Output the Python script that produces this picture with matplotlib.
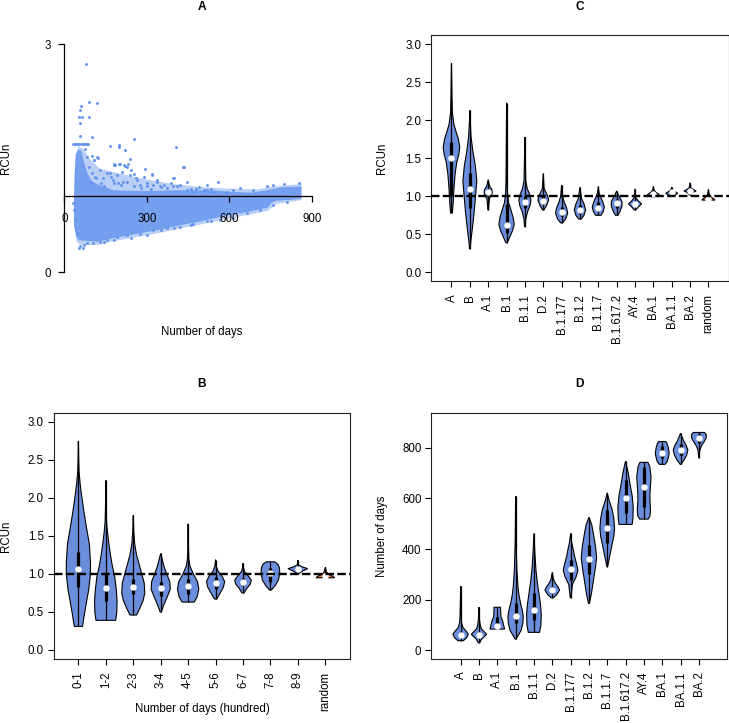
import matplotlib
matplotlib.use("Agg")
import matplotlib.pyplot as plt
import numpy as np

plt.rcParams["font.family"] = ["Liberation Sans", "DejaVu Sans"]
plt.rcParams["font.size"] = 8.3

# ---------------- data: panel A (scatter) ----------------
# dense core of the point cloud (upper and lower envelope, days / RCUn)
core_top_x = [35, 38, 42, 50, 62, 72, 85, 100, 121, 180, 285, 400, 545, 600, 680, 735, 790, 862]
core_top_y = [0.95, 1.30, 1.55, 1.62, 1.60, 1.45, 1.30, 1.20, 1.16, 1.08, 1.07, 1.08, 1.08, 1.06, 1.05, 1.08, 1.12, 1.13]
core_bot_x = [35, 36, 45, 54, 120, 181, 242, 303, 363, 424, 484, 545, 615, 675, 740, 752, 770, 820, 862]
core_bot_y = [0.95, 0.60, 0.45, 0.42, 0.40, 0.45, 0.49, 0.53, 0.57, 0.62, 0.66, 0.71, 0.76, 0.80, 0.85, 0.91, 0.94, 0.95, 0.97]
# sparser halo above the core (upper edge of the thinly scattered points)
halo_top_x = [35, 50, 70, 90, 130, 200, 300, 400, 500, 600, 700, 760, 862]
halo_top_y = [0.95, 1.66, 1.62, 1.50, 1.36, 1.30, 1.22, 1.16, 1.12, 1.10, 1.09, 1.13, 1.16]
# sparser halo below the core (lower edge of the thinly scattered points)
halo_bot_x = [35, 45, 60, 120, 181, 242, 303, 363, 424, 484, 545, 615, 675, 740, 770, 862]
halo_bot_y = [0.95, 0.40, 0.36, 0.36, 0.41, 0.45, 0.49, 0.53, 0.58, 0.62, 0.67, 0.72, 0.76, 0.81, 0.90, 0.95]

# individual scattered points outside the core
pts_x = [80, 90, 119, 62, 58, 55, 64, 91, 56, 57, 102, 253, 75, 121, 239,
         33, 38, 44, 50, 55, 61, 67, 72, 78, 84, 87,
         166, 197, 200, 222, 406, 182, 102,
         108, 130, 111, 142, 166, 184, 202, 220, 233, 178, 196, 214, 239, 253, 263, 275,
         293, 317, 336, 299, 323, 348, 372, 396, 394, 420, 430, 445, 463, 489, 517, 557,
         541, 590, 614, 638, 687, 735, 759, 797, 852,
         120, 181, 199, 217, 229, 156, 168, 193, 211, 241, 259, 290, 302, 320, 338, 362,
         386, 399, 435, 447, 477, 507, 520, 132, 144, 181, 205, 229, 253, 277, 314, 350,
         411, 459, 532, 90, 102, 108, 84, 114, 96,
         53, 72, 144, 181, 241, 302, 350, 398, 459, 532,
         57, 69, 81, 105, 130, 154, 190, 227, 275, 323, 372, 420, 469, 517, 566, 614,
         663, 711, 759, 808, 45, 39, 35, 30]
pts_y = [2.74, 2.24, 2.23, 2.19, 2.13, 2.05, 2.05, 2.05, 1.97, 1.79, 1.78, 1.76, 1.62, 1.51, 1.49,
         1.69, 1.69, 1.69, 1.69, 1.69, 1.69, 1.69, 1.69, 1.69, 1.69, 1.69,
         1.66, 1.68, 1.65, 1.61, 1.65, 1.42, 1.53,
         1.48, 1.35, 1.26, 1.24, 1.30, 1.41, 1.43, 1.40, 1.42, 1.21, 1.17, 1.19, 1.28, 1.29, 1.21, 1.15,
         1.36, 1.29, 1.21, 1.13, 1.15, 1.13, 1.11, 1.13, 1.24, 1.15, 1.38, 1.08, 1.06, 1.12, 1.08, 1.19,
         1.06, 1.06, 1.08, 1.11, 1.08, 1.13, 1.15, 1.16, 1.18,
         1.52, 1.41, 1.43, 1.41, 1.39, 1.30, 1.26, 1.28, 1.32, 1.35, 1.24, 1.26, 1.17, 1.28, 1.19, 1.15,
         1.17, 1.24, 1.39, 1.19, 1.10, 1.08, 1.15, 1.17, 1.13, 1.17, 1.15, 1.19, 1.13, 1.11, 1.09, 1.12,
         1.13, 1.09, 1.09, 1.39, 1.30, 1.48, 1.52, 1.24, 1.19,
         0.32, 0.36, 0.40, 0.43, 0.45, 0.49, 0.56, 0.58, 0.62, 0.67,
         0.34, 0.32, 0.38, 0.39, 0.40, 0.43, 0.46, 0.49, 0.51, 0.56, 0.58, 0.60, 0.64, 0.67, 0.69, 0.72,
         0.78, 0.82, 0.89, 0.93, 0.51, 0.69, 0.82, 0.91]

# ---------------- data: panel B (by period) ----------------
b_names = ["0-1", "1-2", "2-3", "3-4", "4-5", "5-6", "6-7", "7-8", "8-9", "random"]
b_prof_y = [
    [0.31, 0.45, 0.64, 0.80, 1.00, 1.15, 1.39, 1.60, 1.80, 2.05, 2.20, 2.35, 2.50, 2.75],
    [0.39, 0.50, 0.65, 0.80, 0.95, 1.10, 1.25, 1.40, 1.55, 1.70, 1.90, 2.23],
    [0.46, 0.55, 0.65, 0.75, 0.88, 1.00, 1.12, 1.25, 1.40, 1.55, 1.77],
    [0.50, 0.60, 0.70, 0.80, 0.90, 1.00, 1.10, 1.20, 1.27],
    [0.63, 0.70, 0.80, 0.90, 1.00, 1.10, 1.20, 1.35, 1.66],
    [0.67, 0.75, 0.83, 0.90, 0.97, 1.03, 1.10, 1.19],
    [0.75, 0.80, 0.87, 0.92, 0.98, 1.03, 1.08, 1.14],
    [0.79, 0.85, 0.92, 1.00, 1.08, 1.13, 1.16],
    [1.00, 1.04, 1.07, 1.09, 1.12, 1.18],
    [0.95, 0.97, 1.00, 1.03, 1.09],
]
b_prof_w = [
    [0.15, 0.21, 0.30, 0.38, 0.44, 0.44, 0.40, 0.30, 0.21, 0.11, 0.06, 0.025, 0.012, 0],
    [0.36, 0.40, 0.41, 0.38, 0.33, 0.24, 0.17, 0.11, 0.06, 0.025, 0.012, 0],
    [0.12, 0.24, 0.36, 0.42, 0.40, 0.31, 0.22, 0.12, 0.05, 0.02, 0],
    [0.02, 0.12, 0.24, 0.35, 0.33, 0.22, 0.12, 0.05, 0],
    [0.22, 0.33, 0.39, 0.34, 0.19, 0.07, 0.025, 0.012, 0],
    [0.04, 0.17, 0.29, 0.33, 0.24, 0.10, 0.025, 0],
    [0.04, 0.12, 0.27, 0.30, 0.18, 0.06, 0.02, 0],
    [0.04, 0.18, 0.29, 0.34, 0.33, 0.27, 0.15],
    [0.02, 0.18, 0.36, 0.18, 0.02, 0],
    [0.34, 0.27, 0.10, 0.04, 0],
]
b_med = [1.07, 0.81, 0.83, 0.82, 0.84, 0.88, 0.90, 1.01, 1.07, 0.97]
b_q1 = [0.83, 0.64, 0.73, 0.71, 0.73, 0.80, 0.85, 0.90, 1.05, 0.96]
b_q3 = [1.29, 1.00, 0.93, 0.89, 0.93, 0.96, 0.95, 1.08, 1.08, 0.99]

# ---------------- data: panel C (RCUn by lineage) ----------------
c_names = ["A", "B", "A.1", "B.1", "B.1.1", "D.2", "B.1.177", "B.1.2", "B.1.1.7",
           "B.1.617.2", "AY.4", "BA.1", "BA.1.1", "BA.2", "random"]
c_prof_y = [
    [0.78, 0.90, 1.00, 1.15, 1.30, 1.45, 1.55, 1.65, 1.75, 1.85, 1.95, 2.10, 2.30, 2.75],
    [0.31, 0.40, 0.60, 0.80, 1.00, 1.20, 1.40, 1.60, 1.80, 2.00, 2.13],
    [0.82, 0.90, 0.97, 1.00, 1.05, 1.09, 1.13, 1.17, 1.22],
    [0.39, 0.45, 0.55, 0.63, 0.72, 0.82, 0.92, 1.05, 1.20, 1.50, 2.23],
    [0.60, 0.70, 0.80, 0.87, 0.95, 1.03, 1.10, 1.20, 1.40, 1.78],
    [0.82, 0.88, 0.95, 1.00, 1.05, 1.10, 1.30],
    [0.65, 0.70, 0.78, 0.85, 0.92, 1.00, 1.15],
    [0.70, 0.75, 0.82, 0.90, 0.97, 1.05, 1.12],
    [0.75, 0.80, 0.86, 0.93, 1.00, 1.05, 1.13],
    [0.75, 0.80, 0.87, 0.93, 0.98, 1.02, 1.07],
    [0.82, 0.86, 0.90, 0.94, 0.98, 1.10],
    [0.99, 1.02, 1.05, 1.08, 1.13],
    [1.00, 1.04, 1.06, 1.08, 1.12],
    [1.02, 1.05, 1.07, 1.09, 1.11, 1.18],
    [0.95, 0.97, 1.00, 1.03, 1.09],
]
c_prof_w = [
    [0.05, 0.09, 0.11, 0.15, 0.20, 0.29, 0.40, 0.45, 0.38, 0.25, 0.13, 0.05, 0.03, 0],
    [0.02, 0.05, 0.15, 0.24, 0.31, 0.38, 0.30, 0.16, 0.06, 0.02, 0],
    [0.02, 0.04, 0.07, 0.15, 0.22, 0.20, 0.09, 0.04, 0],
    [0.04, 0.15, 0.33, 0.42, 0.36, 0.24, 0.11, 0.05, 0.03, 0.02, 0],
    [0.02, 0.05, 0.15, 0.27, 0.33, 0.25, 0.13, 0.05, 0.03, 0],
    [0.04, 0.18, 0.29, 0.25, 0.15, 0.05, 0],
    [0.05, 0.22, 0.33, 0.27, 0.15, 0.05, 0],
    [0.07, 0.22, 0.31, 0.22, 0.09, 0.04, 0],
    [0.15, 0.27, 0.33, 0.24, 0.11, 0.04, 0],
    [0.07, 0.18, 0.29, 0.29, 0.18, 0.09, 0],
    [0.04, 0.18, 0.36, 0.18, 0.05, 0],
    [0.05, 0.33, 0.15, 0.04, 0],
    [0.05, 0.33, 0.18, 0.05, 0],
    [0.04, 0.15, 0.33, 0.18, 0.05, 0],
    [0.36, 0.27, 0.09, 0.04, 0],
]
c_med = [1.51, 1.10, 1.06, 0.62, 0.92, 0.94, 0.79, 0.82, 0.85, 0.91, 0.90, 1.03, 1.05, 1.07, 0.97]
c_q1 = [1.00, 0.85, 1.00, 0.52, 0.85, 0.90, 0.74, 0.77, 0.80, 0.85, 0.88, 1.02, 1.04, 1.06, 0.96]
c_q3 = [1.72, 1.30, 1.09, 0.90, 1.00, 1.00, 0.86, 0.88, 0.92, 0.97, 0.92, 1.05, 1.06, 1.08, 0.99]

# ---------------- data: panel D (days by lineage) ----------------
d_names = ["A", "B", "A.1", "B.1", "B.1.1", "D.2", "B.1.177", "B.1.2", "B.1.1.7",
           "B.1.617.2", "AY.4", "BA.1", "BA.1.1", "BA.2"]
d_prof_y = [
    [38, 50, 63, 75, 90, 110, 140, 254],
    [30, 45, 55, 63, 72, 85, 100, 120, 170],
    [84, 95, 113, 133, 155, 170],
    [44, 60, 80, 110, 133, 160, 185, 220, 250, 316, 382, 450, 609],
    [71, 100, 143, 180, 225, 270, 318, 384, 462],
    [208, 220, 238, 252, 264, 280, 308],
    [208, 260, 290, 316, 340, 370, 396, 430, 462],
    [185, 221, 287, 330, 366, 410, 458, 497, 525],
    [330, 370, 420, 450, 482, 520, 554, 593, 622],
    [497, 520, 566, 610, 645, 675, 698, 725, 747],
    [518, 530, 554, 590, 620, 650, 686, 725, 742],
    [734, 745, 760, 778, 800, 815, 824],
    [734, 750, 770, 791, 810, 830, 857],
    [760, 790, 800, 812, 825, 839, 852, 860],
]
d_prof_w = [
    [0.15, 0.33, 0.42, 0.31, 0.13, 0.05, 0.03, 0],
    [0.04, 0.15, 0.30, 0.42, 0.30, 0.13, 0.07, 0.03, 0],
    [0.40, 0.36, 0.30, 0.20, 0.18, 0.18],
    [0.02, 0.15, 0.31, 0.40, 0.42, 0.36, 0.27, 0.18, 0.13, 0.07, 0.04, 0.02, 0],
    [0.31, 0.38, 0.40, 0.36, 0.27, 0.18, 0.11, 0.05, 0],
    [0.07, 0.25, 0.40, 0.30, 0.18, 0.07, 0],
    [0.02, 0.10, 0.30, 0.40, 0.33, 0.22, 0.15, 0.05, 0],
    [0.02, 0.13, 0.27, 0.36, 0.42, 0.36, 0.25, 0.15, 0],
    [0.02, 0.13, 0.27, 0.36, 0.40, 0.36, 0.27, 0.10, 0],
    [0.36, 0.40, 0.42, 0.36, 0.27, 0.20, 0.15, 0.07, 0],
    [0.24, 0.33, 0.36, 0.33, 0.33, 0.36, 0.39, 0.32, 0.22],
    [0.15, 0.27, 0.33, 0.38, 0.33, 0.27, 0.20],
    [0.02, 0.18, 0.33, 0.40, 0.30, 0.15, 0],
    [0.01, 0.05, 0.10, 0.18, 0.30, 0.40, 0.40, 0.30],
]
d_med = [62, 62, 95, 137, 159, 238, 322, 362, 482, 602, 646, 778, 791, 839]
d_q1 = [52, 56, 90, 107, 120, 228, 277, 300, 422, 541, 567, 760, 770, 820]
d_q3 = [72, 70, 130, 185, 225, 250, 356, 415, 554, 672, 725, 805, 815, 855]

# ---------------- styling ----------------
W, H = 729, 723
BLUE_PTS = "#6495ED"
BLUE_VIO = "#6A8EDC"
ORANGE = "#EA7A3E"
FS = 8.3

fig = plt.figure(figsize=(W / 100, H / 100), dpi=100)


def px_axes(l, r, t, b):
    return fig.add_axes([l / W, 1 - b / H, (r - l) / W, (b - t) / H])


def ftext(x, y, s, **kw):
    fig.text(x / W, 1 - y / H, s, **kw)


def draw_violins(ax, prof_y, prof_w, meds, q1s, q3s, colors):
    for i in range(len(prof_y)):
        pos = i + 1
        ys = np.asarray(prof_y[i], float)
        ws = np.asarray(prof_w[i], float)
        xs = np.concatenate([pos - ws, (pos + ws)[::-1]])
        yy = np.concatenate([ys, ys[::-1]])
        ax.fill(xs, yy, facecolor=colors[i], edgecolor="black", lw=0.8, zorder=2)
        ax.vlines(pos, ys.min(), ys.max(), color="black", lw=0.9, zorder=3)
        ax.vlines(pos, q1s[i], q3s[i], color="black", lw=2.3, zorder=3)
        ax.plot([pos], [meds[i]], "o", ms=3.6, color="white", mec="white", zorder=4)


def style_box(ax):
    for s in ax.spines.values():
        s.set_linewidth(0.8)
        s.set_color("#222222")
    ax.tick_params(axis="both", direction="out", length=4.1, width=0.8, labelsize=FS)
    ax.tick_params(axis="y", pad=3)
    ax.tick_params(axis="x", pad=5, labelrotation=90)


# ---------------- Panel A ----------------
axA = px_axes(53.7, 350, 35.2, 281.4)
axA.set_xlim(-38.5, 1038)
axA.set_ylim(-0.12, 3.12)
# light halos (thinly scattered points) then the dense core
axA.fill(halo_top_x + core_top_x[::-1], halo_top_y + core_top_y[::-1],
         facecolor=BLUE_PTS, edgecolor="none", alpha=0.45, zorder=0.4)
axA.fill(core_bot_x + halo_bot_x[::-1], core_bot_y + halo_bot_y[::-1],
         facecolor=BLUE_PTS, edgecolor="none", alpha=0.45, zorder=0.4)
poly_x = core_top_x + core_bot_x[::-1]
poly_y = core_top_y + core_bot_y[::-1]
axA.fill(poly_x, poly_y, facecolor=BLUE_PTS, edgecolor="none", alpha=0.9, zorder=0.5)
axA.scatter(pts_x, pts_y, s=4.5, color=BLUE_PTS, linewidths=0, zorder=0.6)
axA.set_axisbelow(False)
for k in ["top", "right"]:
    axA.spines[k].set_visible(False)
axA.spines["left"].set_position(("data", 0))
axA.spines["left"].set_bounds(0, 3)
axA.spines["bottom"].set_position(("data", 1))
axA.spines["bottom"].set_bounds(0, 900)
for k in ["left", "bottom"]:
    axA.spines[k].set_linewidth(0.9)
    axA.spines[k].set_zorder(5)
axA.set_yticks([0, 3])
axA.set_yticklabels(["0", "3"])
axA.set_xticks([0, 300, 600, 900])
axA.set_xticklabels(["0", "300", "600", "900"])
axA.tick_params(axis="both", direction="out", length=4.3, width=0.9, labelsize=FS)
axA.tick_params(axis="y", pad=5.5)
axA.tick_params(axis="x", pad=8)
axA.patch.set_visible(False)
ftext(202, 7, "A", ha="center", va="center", fontsize=8.6, fontweight="bold")
ftext(6, 158, "RCUn", ha="center", va="center", rotation=90, fontsize=FS)
ftext(202, 332, "Number of days", ha="center", va="center", fontsize=FS)

# ---------------- Panel C ----------------
axC = px_axes(431.3, 728.6, 35.2, 281.4)
colorsC = [BLUE_VIO] * (len(c_names) - 1) + [ORANGE]
draw_violins(axC, c_prof_y, c_prof_w, c_med, c_q1, c_q3, colorsC)
axC.axhline(1.0, color="black", lw=1.7, dashes=(3.6, 1.4), zorder=5)
axC.set_xlim(-0.1, 16.1)
axC.set_ylim(-0.12, 3.12)
axC.set_yticks(np.arange(0, 3.01, 0.5))
axC.set_yticklabels([f"{v:.1f}" for v in np.arange(0, 3.01, 0.5)])
axC.set_xticks(np.arange(1, len(c_names) + 1))
axC.set_xticklabels(c_names)
style_box(axC)
ftext(580, 7, "C", ha="center", va="center", fontsize=8.6, fontweight="bold")
ftext(382, 158, "RCUn", ha="center", va="center", rotation=90, fontsize=FS)

# ---------------- Panel B ----------------
axB = px_axes(53.7, 350, 412.8, 659.1)
colorsB = [BLUE_VIO] * (len(b_names) - 1) + [ORANGE]
draw_violins(axB, b_prof_y, b_prof_w, b_med, b_q1, b_q3, colorsB)
axB.axhline(1.0, color="black", lw=1.7, dashes=(3.6, 1.4), zorder=5)
axB.set_xlim(0.1, 10.9)
axB.set_ylim(-0.12, 3.12)
axB.set_yticks(np.arange(0, 3.01, 0.5))
axB.set_yticklabels([f"{v:.1f}" for v in np.arange(0, 3.01, 0.5)])
axB.set_xticks(np.arange(1, len(b_names) + 1))
axB.set_xticklabels(b_names)
style_box(axB)
ftext(202, 384, "B", ha="center", va="center", fontsize=8.6, fontweight="bold")
ftext(6, 536, "RCUn", ha="center", va="center", rotation=90, fontsize=FS)
ftext(202, 709, "Number of days (hundred)", ha="center", va="center", fontsize=FS)

# ---------------- Panel D ----------------
axD = px_axes(431.3, 727.3, 412.7, 658.7)
draw_violins(axD, d_prof_y, d_prof_w, d_med, d_q1, d_q3, [BLUE_VIO] * len(d_names))
axD.set_xlim(-0.6, 15.55)
axD.set_ylim(-33, 938)
axD.set_yticks([0, 200, 400, 600, 800])
axD.set_xticks(np.arange(1, len(d_names) + 1))
axD.set_xticklabels(d_names)
style_box(axD)
ftext(580, 384, "D", ha="center", va="center", fontsize=8.6, fontweight="bold")
ftext(382, 536, "Number of days", ha="center", va="center", rotation=90, fontsize=FS)

fig.savefig("out.png", dpi=100)
